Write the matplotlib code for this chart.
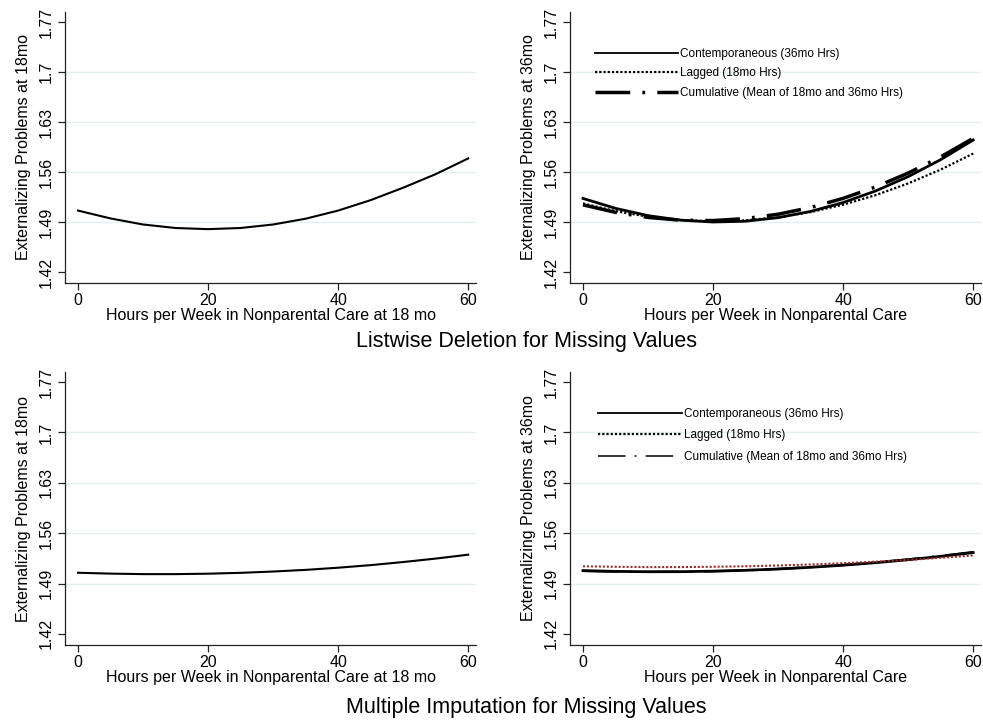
import numpy as np
import matplotlib
matplotlib.use("Agg")
import matplotlib.pyplot as plt
from matplotlib.lines import Line2D

plt.rcParams['font.family'] = ['Liberation Sans', 'DejaVu Sans']

# hours per week (x values read at steps of 5)
hours = [0, 5, 10, 15, 20, 25, 30, 35, 40, 45, 50, 55, 60]

# listwise deletion
lw_18mo = [1.506, 1.495, 1.4865, 1.4816, 1.480, 1.4816, 1.4865, 1.4946, 1.506,
           1.5206, 1.538, 1.557, 1.579]
lw_contemp = [1.523, 1.5091, 1.4989, 1.4926, 1.4900, 1.4911, 1.4961, 1.5048,
              1.5172, 1.5335, 1.5535, 1.5773, 1.6048]
lw_lagged = [1.516, 1.5052, 1.4974, 1.4927, 1.4910, 1.4923, 1.4966, 1.5039,
             1.5142, 1.5276, 1.544, 1.5634, 1.5858]
lw_cumul = [1.514, 1.5035, 1.4964, 1.4925, 1.4920, 1.4948, 1.5009, 1.5103,
            1.5231, 1.5391, 1.5585, 1.5812, 1.6072]

# multiple imputation
mi_18mo = [1.505, 1.5038, 1.5031, 1.5031, 1.5037, 1.5049, 1.5067, 1.5090,
           1.5120, 1.5156, 1.5199, 1.5247, 1.5301]
mi_contemp = [1.508, 1.5069, 1.5064, 1.5065, 1.5072, 1.5084, 1.5102, 1.5126,
              1.5155, 1.5190, 1.5231, 1.5278, 1.5330]
mi_lagged = [1.514, 1.5133, 1.5129, 1.5129, 1.5133, 1.5140, 1.5151, 1.5165,
             1.5183, 1.5204, 1.5229, 1.5258, 1.5290]
mi_cumul = [1.5075, 1.5066, 1.5062, 1.5064, 1.5071, 1.5084, 1.5103, 1.5128,
            1.5158, 1.5194, 1.5236, 1.5284, 1.5338]

yticks = [1.42, 1.49, 1.56, 1.63, 1.70, 1.77]
ytick_labels = ["1.42", "1.49", "1.56", "1.63", "1.7", "1.77"]
grid_vals = [1.49, 1.56, 1.63, 1.70]
xticks = [0, 20, 40, 60]

legend_labels = ["Contemporaneous (36mo Hrs)", "Lagged (18mo Hrs)",
                 "Cumulative (Mean of 18mo and 36mo Hrs)"]

W, H = 983, 724
fig = plt.figure(figsize=(W / 100, H / 100), dpi=100)


def make_ax(left_px, top_px, bottom_px, right_px):
    return fig.add_axes([left_px / W, 1 - bottom_px / H,
                         (right_px - left_px) / W, (bottom_px - top_px) / H])


def style(ax, ylabel, xlabel):
    ax.set_xlim(-2, 61.2)
    ax.set_ylim(1.4046, 1.784)
    for g in grid_vals:
        ax.axhline(g, color='#e4eef1', lw=1.0, zorder=0)
    ax.spines['top'].set_visible(False)
    ax.spines['right'].set_visible(False)
    for s in ['left', 'bottom']:
        ax.spines[s].set_color('#222222')
        ax.spines[s].set_linewidth(0.9)
    ax.set_xticks(xticks)
    ax.set_xticklabels([str(x) for x in xticks])
    ax.set_yticks(yticks)
    ax.set_yticklabels(ytick_labels, rotation=90, va='center')
    ax.tick_params(direction='out', length=5, width=0.9, labelsize=11.5,
                   colors='#222222', pad=3)
    ax.tick_params(axis='x', labelcolor='black', pad=2.5)
    ax.tick_params(axis='y', labelcolor='black')
    ax.set_ylabel(ylabel, fontsize=11.5, labelpad=6)
    ax.set_xlabel(xlabel, fontsize=11.5, labelpad=0)


# --- top row: listwise deletion
ax1 = make_ax(65, 12, 283, 476)
ax1.plot(hours, lw_18mo, color='black', lw=1.5)
style(ax1, "Externalizing Problems at 18mo",
      "Hours per Week in Nonparental Care at 18 mo")

ax2 = make_ax(570, 12, 283, 981)
ax2.plot(hours, lw_contemp, color='black', lw=2.0)
ax2.plot(hours, lw_lagged, color='black', lw=1.6, dashes=(1, 0.9))
ax2.plot(hours, lw_cumul, color='black', lw=2.5, dashes=(10, 3.5, 0.8, 3.5))
style(ax2, "Externalizing Problems at 36mo",
      "Hours per Week in Nonparental Care")
h_top = [Line2D([], [], color='black', lw=1.3),
         Line2D([], [], color='black', lw=1.6, dashes=(1, 0.9)),
         Line2D([], [], color='black', lw=2.5, dashes=(10, 3.5, 0.8, 3.5))]
ax2.legend(h_top, legend_labels, loc='upper left', bbox_to_anchor=(0.062, 0.867),
           frameon=False, fontsize=8.5, handlelength=7.0, handletextpad=0.15,
           labelspacing=0.62, borderpad=0, borderaxespad=0)

fig.text(526 / W, 1 - 341 / H, "Listwise Deletion for Missing Values",
         fontsize=15.5, ha='center', va='center')

# --- bottom row: multiple imputation
ax3 = make_ax(65, 372, 645, 476)
ax3.plot(hours, mi_18mo, color='black', lw=1.5)
style(ax3, "Externalizing Problems at 18mo",
      "Hours per Week in Nonparental Care at 18 mo")

ax4 = make_ax(570, 372, 645, 981)
ax4.plot(hours, mi_contemp, color='black', lw=2.0)
ax4.plot(hours, mi_cumul, color='black', lw=1.6, dashes=(16, 5, 1.2, 5))
ax4.plot(hours, mi_lagged, color='#a02828', lw=1.5, dashes=(1, 0.9))
style(ax4, "Externalizing Problems at 36mo",
      "Hours per Week in Nonparental Care")
h_bot = [Line2D([], [], color='black', lw=1.3),
         Line2D([], [], color='black', lw=1.6, dashes=(1, 0.9)),
         Line2D([], [], color='black', lw=1.1, dashes=(18, 6, 1.2, 6))]
ax4.legend(h_bot, legend_labels, loc='upper left', bbox_to_anchor=(0.068, 0.869),
           frameon=False, fontsize=8.5, handlelength=7.1, handletextpad=0.15,
           labelspacing=0.82, borderpad=0, borderaxespad=0)

fig.text(526 / W, 1 - 707 / H, "Multiple Imputation for Missing Values",
         fontsize=15.5, ha='center', va='center')

fig.savefig("out.png", dpi=100, facecolor='white')
